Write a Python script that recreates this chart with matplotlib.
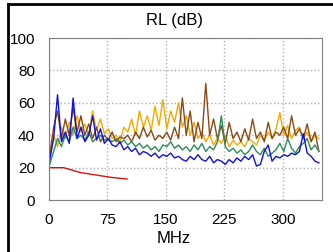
import numpy as np
import matplotlib
matplotlib.use('Agg')
from matplotlib import pyplot as plt
from matplotlib.lines import Line2D

plt.rcParams['font.family'] = ['Liberation Sans', 'DejaVu Sans']

freq = np.arange(1, 350, 5)

blue = [25, 38, 65, 36, 42, 35, 63, 38, 45, 36, 40, 52, 37, 44, 35, 38, 34, 33, 36, 31,
        33, 30, 32, 28, 30, 29, 27, 29, 26, 28, 27, 29, 26, 27, 25, 24, 27, 25, 28, 25,
        24, 27, 23, 25, 24, 22, 25, 23, 26, 24, 27, 25, 28, 21, 22, 30, 34, 24, 27, 26,
        28, 27, 29, 28, 30, 41, 29, 27, 24, 23]
green = [22, 30, 38, 33, 40, 36, 45, 38, 40, 37, 42, 36, 38, 40, 37, 38, 36, 38, 35, 37,
         34, 36, 33, 35, 32, 34, 31, 33, 30, 34, 33, 36, 32, 34, 31, 33, 30, 34, 31, 35,
         30, 33, 31, 36, 52, 33, 30, 32, 29, 31, 28, 30, 34, 30, 28, 32, 27, 29, 31, 35,
         30, 38, 32, 29, 33, 35, 38, 31, 34, 30]
orange = [25, 40, 33, 45, 38, 48, 40, 52, 42, 47, 40, 55, 43, 50, 41, 44, 38, 40, 36, 45,
          42, 50, 40, 55, 45, 52, 43, 58, 46, 62, 44, 55, 48, 60, 45, 52, 40, 48, 38, 42,
          36, 40, 34, 38, 35, 40, 33, 37, 34, 36, 33, 38, 36, 34, 40, 37, 42, 38, 44, 54,
          40, 46, 38, 43, 45, 38, 42, 36, 40, 38]
brown = [28, 45, 55, 38, 50, 40, 57, 42, 52, 40, 47, 38, 45, 36, 40, 37, 42, 36, 39, 38,
         40, 36, 42, 38, 45, 39, 43, 37, 40, 38, 42, 37, 45, 38, 63, 40, 55, 36, 48, 38,
         72, 40, 50, 38, 46, 35, 48, 38, 42, 36, 44, 37, 50, 38, 42, 36, 48, 38, 42, 40,
         45, 38, 52, 40, 44, 38, 47, 36, 42, 30]

red_freq = [1, 19, 40, 60, 80, 100]
red = [20, 20, 17, 15.5, 14, 13]

fig = plt.figure(figsize=(3.33, 2.52), dpi=100)
ax = fig.add_axes([0.147, 0.206, 0.82, 0.643])

ax.plot(freq, orange, color='#f5a800', lw=1)
ax.plot(freq, brown, color='#8b4a14', lw=1)
ax.plot(freq, green, color='#2e8b57', lw=1)
ax.plot(freq, blue, color='#1010e0', lw=1)
ax.plot(red_freq, red, color='#e01010', lw=1)

ax.set_xlim(0, 350)
ax.set_ylim(0, 100)
ax.set_xticks([0, 75, 150, 225, 300])
ax.set_yticks([0, 20, 40, 60, 80, 100])
ax.tick_params(length=0, labelsize=11)
ax.tick_params(axis='x', pad=9)
ax.tick_params(axis='y', pad=10)
ax.grid(True, color='#b0b0b0', ls=':', lw=1)
for s in ax.spines.values():
    s.set_color('#808080')

fig.text(0.523, 0.92, 'RL (dB)', ha='center', va='center', fontsize=12)
fig.text(0.523, 0.055, 'MHz', ha='center', va='center', fontsize=12)

fig.add_artist(Line2D([0.024, 0.024], [0, 0.985], transform=fig.transFigure, color='black', lw=2))
fig.add_artist(Line2D([0.024, 1], [0.985, 0.985], transform=fig.transFigure, color='black', lw=2))

fig.savefig('out.png', dpi=100)
